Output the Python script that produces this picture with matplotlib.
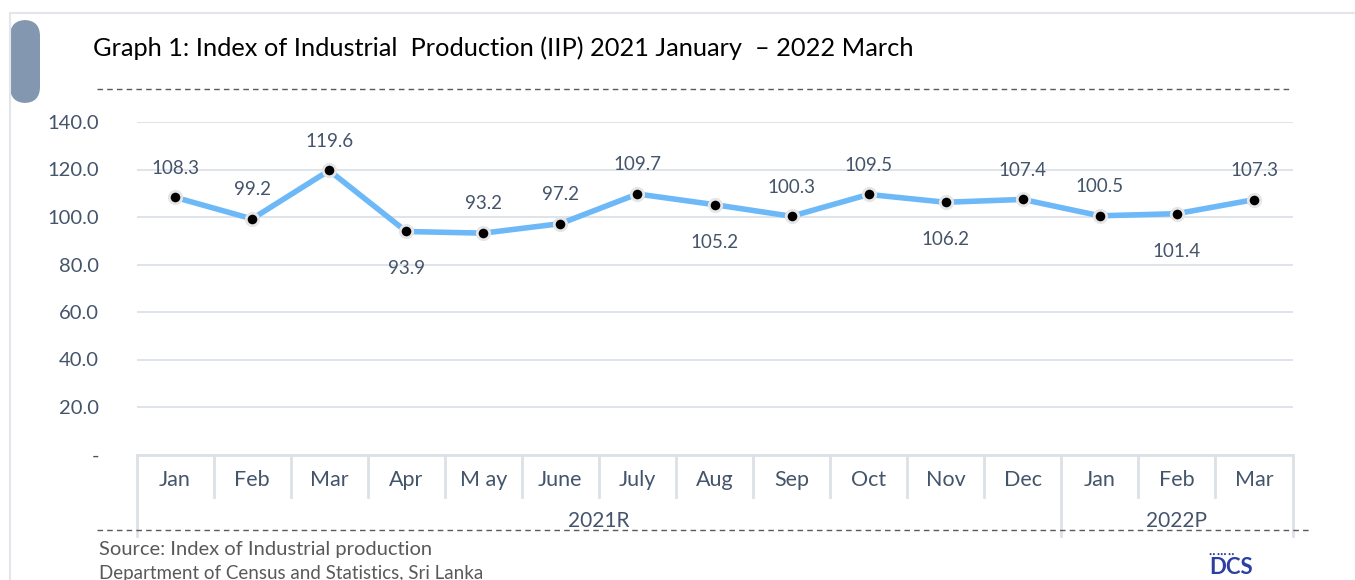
import numpy as np
import matplotlib.pyplot as plt
from matplotlib.patches import FancyBboxPatch
from matplotlib.lines import Line2D
from matplotlib.transforms import blended_transform_factory

months = ["Jan", "Feb", "Mar", "Apr", "M ay", "June", "July", "Aug", "Sep",
          "Oct", "Nov", "Dec", "Jan", "Feb", "Mar"]
iip = [108.3, 99.2, 119.6, 93.9, 93.2, 97.2, 109.7, 105.2, 100.3,
       109.5, 106.2, 107.4, 100.5, 101.4, 107.3]
label_below = [False, False, False, True, False, False, False, True, False,
               False, True, False, False, True, False]
groups = ["2021R", "2022P"]
group_sizes = [12, 3]
yticks = [0, 20, 40, 60, 80, 100, 120, 140]
ytick_labels = ["-", "20.0", "40.0", "60.0", "80.0", "100.0", "120.0", "140.0"]

plt.rcParams['font.family'] = ['Lato', 'DejaVu Sans']
txt_col = "#44546A"
grid_col = "#DCE1E8"

W, H = 1355, 580
fig = plt.figure(figsize=(W / 100, H / 100), dpi=100)

def fx(px):
    return px / W

def fy(py):
    return 1 - py / H

# outer frame and side tab
fig.add_artist(Line2D([fx(10), fx(1355)], [fy(13), fy(13)], color="#E3E7EC", lw=1.5))
fig.add_artist(Line2D([fx(10), fx(10)], [fy(13), fy(580)], color="#E3E7EC", lw=1.5))
fig.add_artist(FancyBboxPatch((fx(10), fy(103)), fx(30), fy(20) - fy(103),
                              boxstyle="round,pad=0,rounding_size=0.012",
                              mutation_aspect=W / H,
                              fc="#8497B0", ec="none", transform=fig.transFigure))

fig.text(fx(93), fy(48), "Graph 1: Index of Industrial  Production (IIP) 2021 January  \u2013 2022 March",
         fontsize=18.3, color="black", va="center", ha="left")
fig.add_artist(Line2D([fx(97), fx(1290)], [fy(89), fy(89)], color="#595959",
                      lw=1, ls=(0, (4, 3))))
fig.add_artist(Line2D([fx(97), fx(1310)], [fy(530), fy(530)], color="#595959",
                      lw=1, ls=(0, (4, 3))))

ax = fig.add_axes([fx(136.5), fy(454.5), fx(1292.5) - fx(136.5), fy(122) - fy(454.5)])
x = np.arange(len(iip))
ax.set_xlim(-0.5, len(iip) - 0.5)
ax.set_ylim(0, 140)
ax.set_yticks(yticks)
ax.set_yticklabels(ytick_labels)
ax.tick_params(axis="y", length=0, pad=27, labelsize=14.5, labelcolor=txt_col)
ax.set_xticks([])
for s in ax.spines.values():
    s.set_visible(False)
ax.grid(axis="y", color=grid_col, lw=1.3)
ax.set_axisbelow(True)

ax.plot(x, iip, color="#6DB9F8", lw=4, zorder=2)
ax.scatter(x, iip, s=80, color="black", edgecolors="#E6E6E6", linewidths=2, zorder=3)
for xi, v, below in zip(x, iip, label_below):
    off = -27 if below else 21
    ax.annotate(f"{v:.1f}", (xi, v), xytext=(0, off), textcoords="offset points",
                ha="center", va="center", fontsize=13.5, color=txt_col)

# category axis boxes
tr = blended_transform_factory(ax.transData, ax.transAxes)
ax_h = H * (fy(122) - fy(454.5))

def ay(py):
    return (454.5 - py) / ax_h

ax.plot([-0.5, len(iip) - 0.5], [0, 0], color=grid_col, lw=2, transform=tr, clip_on=False)
for i, m in enumerate(months):
    ax.text(i, ay(480), m, transform=tr, ha="center", va="center",
            fontsize=15.5, color=txt_col)
bounds = np.cumsum([0] + group_sizes) - 0.5
for b in np.arange(0.5, len(iip) - 1, 1):
    if b not in bounds:
        ax.plot([b, b], [0, ay(497)], color=grid_col, lw=2, transform=tr, clip_on=False)
for b in bounds:
    ax.plot([b, b], [0, ay(536)], color=grid_col, lw=2, transform=tr, clip_on=False)
start = 0
for g, n in zip(groups, group_sizes):
    ax.text(start + (n - 1) / 2, ay(521), g, transform=tr, ha="center", va="center",
            fontsize=15, color=txt_col)
    start += n

fig.text(fx(99), fy(549), "Source: Index of Industrial production", fontsize=14.5,
         color="#595959", va="center")
fig.text(fx(99), fy(574), "Department of Census and Statistics, Sri Lanka", fontsize=13.5,
         color="#595959", va="center")
fig.text(fx(1231), fy(567), "DCS", fontsize=16, fontweight="bold", color="#2E3FA3",
         va="center", ha="center")
fig.text(fx(1222), fy(554), "\u2022\u2022 \u2022\u2022\u2022 \u2022\u2022", fontsize=4,
         color="#2E3FA3", va="center", ha="center")

fig.savefig("out.png", dpi=100)
